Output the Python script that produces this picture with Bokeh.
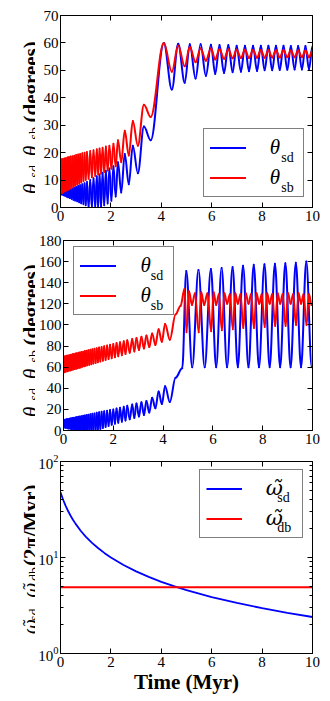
import numpy as np
from bokeh.plotting import figure
from bokeh.models import (Range1d, FixedTicker, LinearAxis, Legend, LegendItem,
                          Label, ColumnDataSource, CustomJSTickFormatter)
from bokeh.layouts import column, row
from bokeh.embed import file_html
from bokeh.resources import INLINE

# ------------------------------------------------------------------ data
x_ticks = [0, 2, 4, 6, 8, 10]
top_y_ticks = [0, 10, 20, 30, 40, 50, 60, 70]
mid_y_ticks = [0, 20, 40, 60, 80, 100, 120, 140, 160, 180]
bot_y_ticks = [1, 10, 100]
bot_y_minor = [2, 3, 4, 5, 6, 7, 8, 9, 20, 30, 40, 50, 60, 70, 80, 90]

# top panel: turning points (time in Myr, angle in degrees)
top_t = [0.00, 0.03, 0.06, 0.09, 0.12, 0.15, 0.18, 0.21, 0.24, 0.27, 0.30, 0.335,
         0.37, 0.405, 0.44, 0.475, 0.51, 0.545, 0.58, 0.62, 0.66, 0.70, 0.74, 0.78,
         0.82, 0.865, 0.91, 0.955, 1.00, 1.05, 1.115, 1.18, 1.245, 1.31, 1.38, 1.44,
         1.495, 1.55, 1.61, 1.67, 1.735, 1.80, 1.87, 1.94, 2.02, 2.10, 2.19, 2.28,
         2.41, 2.55, 2.71, 2.87, 3.07, 3.31, 3.58, 4.10, 4.42, 4.67, 4.93, 5.13,
         5.36, 5.56, 5.77, 5.97, 6.14, 6.31, 6.49, 6.66, 6.83, 6.99, 7.16, 7.32,
         7.48, 7.64, 7.80, 7.95, 8.10, 8.25, 8.40, 8.55, 8.70, 8.85, 9.00, 9.14,
         9.29, 9.43, 9.58, 9.72, 9.86, 10.0]
top_sb = [5.0, 17.6, 5.3, 17.7, 5.6, 17.9, 5.9, 18.0, 6.2, 18.2, 6.5, 18.4,
          6.85, 18.55, 7.2, 18.7, 7.55, 18.9, 7.9, 19.1, 8.3, 19.3, 8.7, 19.5,
          9.1, 19.75, 9.55, 20.0, 10.0, 20.2, 10.45, 20.6, 11.0, 20.9, 11.5, 21.2,
          12.0, 21.5, 12.4, 21.8, 12.9, 22.2, 13.5, 22.5, 14.1, 23.2, 15.0, 24.5,
          16.5, 28.0, 19.0, 31.5, 22.5, 37.5, 33.0, 60.0, 49.5, 59.0, 51.5, 58.5,
          53.0, 58.0, 53.5, 58.0, 54.0, 57.7, 54.2, 57.6, 54.4, 57.5, 54.5, 57.5,
          54.5, 57.4, 54.6, 57.4, 54.6, 57.3, 54.7, 57.3, 54.7, 57.3, 54.8, 57.2,
          54.8, 57.2, 54.8, 57.2, 54.8, 57.2]
top_sd = [5.0, 5.1, 4.75, 5.4, 4.5, 5.6, 4.25, 5.8, 4.0, 6.1, 3.75, 6.3,
          3.45, 6.6, 3.15, 6.9, 2.85, 7.2, 2.55, 7.5, 2.25, 7.8, 1.9, 8.1,
          1.55, 8.45, 1.2, 8.8, 0.8, 9.3, 0.3, 10.0, 0.0, 10.7, 0.0, 11.4,
          0.0, 12.0, 0.3, 12.7, 0.8, 13.4, 1.5, 14.2, 2.5, 15.0, 4.0, 16.5,
          5.5, 19.5, 8.5, 22.5, 12.5, 29.5, 24.5, 60.0, 43.0, 59.7, 45.5, 59.5,
          47.0, 59.5, 48.0, 59.3, 48.7, 59.2, 49.0, 59.2, 49.3, 59.0, 49.5, 59.0,
          49.7, 59.0, 49.8, 59.0, 50.0, 59.0, 50.0, 59.0, 50.1, 59.0, 50.2, 58.9,
          50.3, 58.9, 50.3, 58.9, 50.4, 58.9]

# middle panel: turning points
mid_sd_t = [0.00, 0.03, 0.06, 0.09, 0.12, 0.15, 0.18, 0.21, 0.24, 0.27, 0.30, 0.33,
            0.36, 0.39, 0.42, 0.45, 0.48, 0.51, 0.54, 0.57, 0.60, 0.63, 0.66, 0.69,
            0.72, 0.755, 0.79, 0.825, 0.86, 0.895, 0.93, 0.965, 1.00, 1.04, 1.08, 1.12,
            1.16, 1.20, 1.245, 1.29, 1.335, 1.38, 1.43, 1.48, 1.53, 1.58, 1.635, 1.69,
            1.75, 1.81, 1.87, 1.935, 2.00, 2.065, 2.13, 2.20, 2.27, 2.345, 2.42, 2.49,
            2.56, 2.66, 2.76, 2.845, 2.93, 3.03, 3.13, 3.23, 3.33, 3.445, 3.56, 3.69,
            3.82, 3.95, 4.08, 4.27, 4.50, 4.77, 4.93, 5.17, 5.42, 5.67, 5.92, 6.13,
            6.35, 6.57, 6.79, 7.00, 7.21, 7.43, 7.64, 7.85, 8.07, 8.28, 8.49, 8.70,
            8.91, 9.12, 9.33, 9.54, 9.75, 9.97]
mid_sd = [10.0, 2.85, 10.3, 2.55, 10.6, 2.25, 10.9, 1.95, 11.2, 1.65, 11.5, 1.35,
          11.8, 1.05, 12.1, 0.75, 12.4, 0.45, 12.7, 0.15, 13.0, 0.0, 13.3, 0.0,
          13.6, 0.0, 14.0, 0.0, 14.3, 0.0, 14.7, 0.0, 15.0, 0.0, 15.4, 0.0,
          15.8, 0.0, 16.2, 0.0, 16.7, 0.7, 17.2, 1.5, 17.7, 2.4, 18.2, 3.3,
          18.8, 4.3, 19.4, 5.4, 20.0, 6.5, 20.8, 7.4, 21.6, 8.4, 22.5, 9.4,
          23.4, 10.6, 24.6, 11.9, 25.6, 13.2, 26.8, 14.6, 28.0, 17.0, 31.0, 21.0,
          37.0, 25.0, 42.0, 27.0, 50.0, 59.0, 151.0, 60.0, 152.0, 60.0, 153.0, 60.0,
          154.0, 60.0, 155.0, 60.0, 156.0, 60.0, 157.0, 60.0, 157.5, 60.0, 158.0, 60.0,
          158.5, 60.0, 159.0, 60.0, 160.0, 60.0]
mid_sb_t = [0.00, 0.03, 0.06, 0.09, 0.12, 0.15, 0.18, 0.21, 0.24, 0.27, 0.30, 0.33,
            0.36, 0.39, 0.42, 0.45, 0.48, 0.51, 0.54, 0.57, 0.60, 0.63, 0.66, 0.69,
            0.72, 0.755, 0.79, 0.825, 0.86, 0.895, 0.93, 0.965, 1.00, 1.04, 1.08, 1.12,
            1.16, 1.20, 1.245, 1.29, 1.335, 1.38, 1.43, 1.48, 1.53, 1.58, 1.635, 1.69,
            1.75, 1.81, 1.87, 1.935, 2.00, 2.065, 2.13, 2.20, 2.27, 2.345, 2.42, 2.49,
            2.56, 2.66, 2.76, 2.845, 2.93, 3.03, 3.13, 3.23, 3.33, 3.445, 3.56, 3.69,
            3.82, 3.95, 4.08, 4.27, 4.50, 4.70, 4.86, 4.94, 5.04, 5.16, 5.28, 5.43,
            5.53, 5.65, 5.78, 5.93, 6.03, 6.13, 6.24, 6.36, 6.46, 6.57, 6.68, 6.80,
            6.90, 7.00, 7.11, 7.22, 7.32, 7.43, 7.53, 7.65, 7.75, 7.86, 7.96, 8.08,
            8.18, 8.28, 8.38, 8.50, 8.60, 8.70, 8.80, 8.92, 9.02, 9.12, 9.22, 9.34,
            9.44, 9.54, 9.64, 9.76, 9.86, 9.96, 10.0]
mid_sb = [70.0, 55.2, 70.4, 55.6, 70.7, 56.1, 71.1, 56.5, 71.4, 56.9, 71.8, 57.3,
          72.2, 57.7, 72.5, 58.2, 72.9, 58.6, 73.2, 59.0, 73.6, 59.4, 74.0, 59.8,
          74.3, 60.3, 74.7, 60.8, 75.2, 61.3, 75.6, 61.8, 76.0, 62.3, 76.5, 62.8,
          77.0, 63.4, 77.5, 64.0, 78.0, 64.7, 78.6, 65.4, 79.2, 66.1, 79.8, 66.8,
          80.5, 67.7, 81.2, 68.5, 82.0, 69.5, 82.8, 70.4, 83.6, 71.4, 84.5, 72.4,
          85.4, 73.6, 86.6, 74.9, 87.6, 76.2, 88.8, 77.6, 90.0, 79.0, 92.0, 81.0,
          96.0, 84.0, 101.0, 86.0, 110.0, 118.0, 134.0, 93.0, 132.0, 119.0, 130.0, 93.0,
          131.0, 119.0, 130.0, 94.0, 131.0, 119.0, 129.0, 95.0, 130.0, 120.0, 129.0, 96.0,
          130.0, 120.0, 129.0, 97.0, 130.0, 120.0, 129.0, 97.0, 130.0, 120.0, 129.0, 98.0,
          130.0, 120.0, 129.0, 99.0, 130.0, 120.0, 129.0, 99.0, 130.0, 120.0, 129.0, 100.0,
          130.0, 120.0, 129.0, 100.0, 129.0, 119.0, 120.0]

# bottom panel: precession frequencies (2 pi / Myr)
bot_t = [0.0, 0.1, 0.2, 0.3, 0.4, 0.5, 0.6, 0.8, 1.0, 1.25, 1.5, 1.75, 2.0,
         2.5, 3.0, 3.5, 4.0, 4.5, 5.0, 6.0, 7.0, 8.0, 9.0, 10.0]
bot_sd = [47.7, 40.2, 34.7, 30.5, 27.2, 24.6, 22.4, 19.0, 16.5, 14.2, 12.5, 11.1, 10.0,
          8.35, 7.17, 6.28, 5.58, 5.03, 4.58, 3.87, 3.36, 2.97, 2.65, 2.40]
bot_db_t = [0.0, 10.0]
bot_db = [4.9, 4.9]

# ------------------------------------------------------------------ style
BLUE = "#0000ff"
RED = "#ff0000"
SERIF = "Liberation Serif"
MATH = "DejaVu Serif"
K = 0.3634          # cubic Bezier handle length that reproduces a half sine wave
LAB_W = 35          # width of the strip that carries the rotated y labels
MAIN_W = 295
FRAME_W = 252
BORDER_L = 25


def smooth(p, t, y, color, width):
    t = np.asarray(t, dtype=float)
    y = np.asarray(y, dtype=float)
    dt = np.diff(t)
    src = ColumnDataSource(dict(
        x0=t[:-1], y0=y[:-1], x1=t[1:], y1=y[1:],
        cx0=t[:-1] + K * dt, cy0=y[:-1], cx1=t[1:] - K * dt, cy1=y[1:]))
    return p.bezier(x0="x0", y0="y0", x1="x1", y1="y1", cx0="cx0", cy0="cy0",
                    cx1="cx1", cy1="cy1", source=src, line_color=color,
                    line_width=width, line_cap="round")


def make_fig(height, top, bottom, y_range, yticks, log=False, minor=None):
    kw = dict(width=MAIN_W, height=height, output_backend="svg", toolbar_location=None,
              x_range=Range1d(0, 10), y_range=y_range, min_border_left=BORDER_L,
              min_border_right=MAIN_W - BORDER_L - FRAME_W, min_border_top=top,
              min_border_bottom=bottom,
              background_fill_color="white", border_fill_color="white")
    if log:
        kw["y_axis_type"] = "log"
    p = figure(**kw)
    p.xgrid.visible = False
    p.ygrid.visible = False
    p.outline_line_color = "black"
    p.outline_line_width = 1
    bottom_ax = p.below[0]
    left_ax = p.left[0]
    for ax in (bottom_ax, left_ax):
        ax.axis_line_color = "black"
        ax.major_tick_in = 5
        ax.major_tick_out = 0
        ax.major_tick_line_color = "black"
        ax.minor_tick_line_color = None
        ax.major_label_text_font = SERIF
        ax.major_label_text_font_size = "15px"
        ax.major_label_text_color = "black"
        ax.major_label_standoff = 2
    bottom_ax.major_label_standoff = 3
    bottom_ax.ticker = FixedTicker(ticks=x_ticks)
    left_ax.ticker = FixedTicker(ticks=yticks, minor_ticks=minor or [])
    if minor:
        left_ax.minor_tick_line_color = "black"
        left_ax.minor_tick_in = 3
        left_ax.minor_tick_out = 0
    # ticks on the top and right sides, pointing inwards, without labels
    blank = CustomJSTickFormatter(code="return ''")
    above = LinearAxis(ticker=FixedTicker(ticks=x_ticks), formatter=blank)
    right = LinearAxis(ticker=FixedTicker(ticks=yticks, minor_ticks=minor or []),
                       formatter=blank)
    for ax in (above, right):
        ax.axis_line_color = "black"
        ax.major_tick_in = 5
        ax.major_tick_out = 0
        ax.major_label_text_font_size = "1px"
        ax.major_label_text_color = None
        ax.major_label_standoff = 0
        ax.minor_tick_line_color = "black" if (minor and ax is right) else None
        ax.minor_tick_in = 3
        ax.minor_tick_out = 0
    p.add_layout(above, "above")
    p.add_layout(right, "right")
    return p, bottom_ax


def label_strip(height, top, bottom, pieces):
    """narrow plot whose frame lines up with the panel's frame; data units are pixels
    measured from the frame's bottom edge; it carries the rotated y label"""
    fh = height - top - bottom
    s = figure(width=LAB_W, height=height, output_backend="svg", toolbar_location=None,
               x_range=Range1d(0, LAB_W), y_range=Range1d(0, fh),
               x_axis_location=None, y_axis_location=None,
               min_border_left=0, min_border_right=0, min_border_top=top,
               min_border_bottom=bottom, outline_line_color=None,
               background_fill_color="white", border_fill_color="white")
    s.grid.visible = False
    # pieces: (text, font, size, style, baseline x px, px above the frame bottom)
    for text, font, size, style, bx, up in pieces:
        s.add_layout(Label(x=bx, y=up, text=text,
                           angle=np.pi / 2, text_align="left",
                           text_baseline="alphabetic", text_font=font,
                           text_font_size=size, text_font_style=style,
                           text_color="black"))
    return s


class Px:
    """pixel position (from the frame's bottom-left corner) -> data coordinates"""
    def __init__(self, y0, y1, frame_h, log=False):
        self.y0, self.y1, self.h, self.log = y0, y1, frame_h, log

    def x(self, px):
        return 10.0 * px / FRAME_W

    def y(self, py):
        if self.log:
            a, b = np.log10(self.y0), np.log10(self.y1)
            return float(10 ** (a + (b - a) * py / self.h))
        return self.y0 + (self.y1 - self.y0) * py / self.h


def legend(p, cv, renderers, sym, font, subs, lx, ly, label_w):
    pad, gw, gh, sp, st = 6, 36, 25, 5, 24
    items = [LegendItem(label=sym, renderers=[r]) for r in renderers]
    leg = Legend(items=items, location=(lx, ly), orientation="vertical",
                 padding=pad, spacing=sp, margin=0, glyph_width=gw, glyph_height=gh,
                 label_height=gh, label_width=label_w, label_standoff=st,
                 label_text_font=font, label_text_font_style="italic",
                 label_text_font_size="21px", label_text_color="black",
                 border_line_color="black", border_line_width=1,
                 background_fill_alpha=0.0)
    p.add_layout(leg)
    height = 2 * pad + 2 * gh + sp
    centers = [ly + height - pad - gh / 2, ly + pad + gh / 2]
    sx = lx + pad + gw + st + 12
    for sub, cy in zip(subs, centers):
        p.add_layout(Label(x=cv.x(sx), y=cv.y(cy - 8), text=sub,
                           text_font=SERIF, text_font_size="14px",
                           text_align="left", text_baseline="alphabetic",
                           text_color="black"))


B = 30.0   # baseline of the y labels inside the strip
th_pieces = [("θ", SERIF, "21px", "italic", B, 13.5),
             ("sd", SERIF, "14px", "normal", B + 3.5, 30),
             (",", SERIF, "21px", "normal", B, 43),
             ("θ", SERIF, "21px", "italic", B, 51.5),
             ("sb", SERIF, "14px", "normal", B + 3.5, 68),
             ("(degrees)", SERIF, "21px", "bold", B, 85)]
om = "ω\u0303"
om_pieces = [(om, MATH, "18px", "italic", B, 19.5),
             ("sd", SERIF, "14px", "normal", B + 3.5, 32.5),
             (",", SERIF, "21px", "normal", B, 47),
             (om, MATH, "18px", "italic", B, 56),
             ("db", SERIF, "14px", "normal", B + 3.5, 72.5),
             ("(2π/Myr)", SERIF, "21px", "bold", B, 87.5)]

# ------------------------------------------------------------------ top panel
H1, T1, B1 = 226, 15, 19
p1, _ = make_fig(H1, T1, B1, Range1d(0, 70), top_y_ticks)
cv1 = Px(0, 70, H1 - T1 - B1)
r1b = smooth(p1, top_t, top_sd, BLUE, 2)
r1r = smooth(p1, top_t, top_sb, RED, 2)
legend(p1, cv1, [r1b, r1r], "θ", SERIF, ["sd", "sb"], 142.7, 10, 27)
s1 = label_strip(H1, T1, B1, th_pieces)

# ------------------------------------------------------------------ middle panel
H2, T2, B2 = 223, 14, 19
p2, _ = make_fig(H2, T2, B2, Range1d(0, 180), mid_y_ticks)
cv2 = Px(0, 180, H2 - T2 - B2)
r2b = smooth(p2, mid_sd_t, mid_sd, BLUE, 2)
r2r = smooth(p2, mid_sb_t, mid_sb, RED, 2)
legend(p2, cv2, [r2b, r2r], "θ", SERIF, ["sd", "sb"], 10.4, 115, 27)
s2 = label_strip(H2, T2, B2, th_pieces)

# ------------------------------------------------------------------ bottom panel
H3, T3, B3 = 252, 12, 48
p3, xax3 = make_fig(H3, T3, B3, Range1d(1, 100), bot_y_ticks, log=True, minor=bot_y_minor)
cv3 = Px(1, 100, H3 - T3 - B3, log=True)
r3b = p3.line(bot_t, bot_sd, line_color=BLUE, line_width=1.8)
r3r = p3.line(bot_db_t, bot_db, line_color=RED, line_width=1.8)
xax3.axis_label = "Time (Myr)"
xax3.axis_label_text_font = SERIF
xax3.axis_label_text_font_style = "bold"
xax3.axis_label_text_font_size = "21px"
xax3.axis_label_text_color = "black"
xax3.axis_label_standoff = 0
legend(p3, cv3, [r3b, r3r], om, MATH, ["sd", "db"], 138.7, 115.5, 30)
s3 = label_strip(H3, T3, B3, om_pieces)

layout = column(row(s1, p1), row(s2, p2), row(s3, p3))
open("out.html", "w").write(file_html(layout, INLINE))
